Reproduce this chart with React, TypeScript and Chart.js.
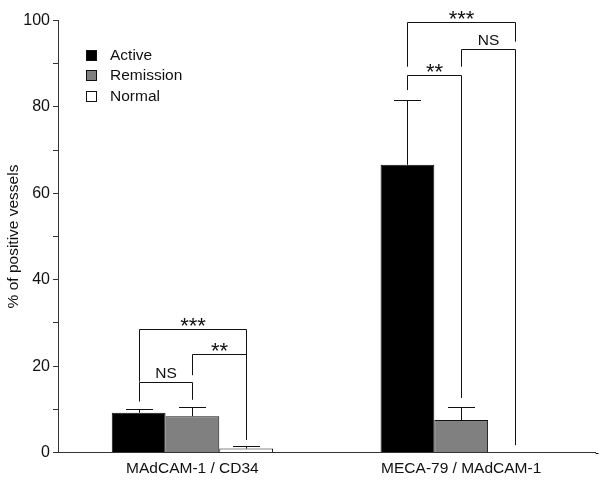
import React, { useEffect, useRef } from 'react';
import { Chart, registerables } from 'chart.js';

Chart.register(...registerables);

const categories = ['MAdCAM-1 / CD34', 'MECA-79 / MAdCAM-1'];
const seriesNames = ['Active', 'Remission', 'Normal'];
const activeValues = [9.2, 66.6];
const activeErrors = [0.9, 15.1];
const remissionValues = [8.4, 7.5];
const remissionErrors = [2.1, 3.1];
const normalValues = [0.9, 0];
const normalErrors = [0.5, 0];
const seriesColors = ['#000000', '#808080', '#ffffff'];

// significance brackets (value units)
const bracketCategory = [0, 0, 0, 1, 1, 1];
const bracketFrom = [0, 0, 1, 0, 1, 0];
const bracketTo = [1, 2, 2, 1, 2, 2];
const bracketTop = [16.4, 28.7, 22.7, 87.5, 93.4, 99.6];
const bracketLeftEnd = [11.8, 16.4, 17.9, 83.9, 89.3, 89.3];
const bracketRightEnd = [12.2, 2.9, 2.9, 12.6, 1.7, 95.1];
const bracketLabels = ['NS', '***', '**', '**', 'NS', '***'];

const FONT = "'Liberation Sans', Arial, Helvetica, sans-serif";
const INK = '#111111';

const crisp = (v: number) => Math.round(v) + 0.5;

const overlayPlugin = {
  id: 'overlay',
  afterDatasetsDraw(chart: any) {
    const ctx = chart.ctx as CanvasRenderingContext2D;
    const ys = chart.scales.y;
    const area = chart.chartArea;
    const errs = [activeErrors, remissionErrors, normalErrors];
    ctx.save();
    ctx.strokeStyle = INK;
    ctx.lineWidth = 1;
    const line = (x1: number, y1: number, x2: number, y2: number) => {
      ctx.beginPath();
      ctx.moveTo(x1, y1);
      ctx.lineTo(x2, y2);
      ctx.stroke();
    };
    // error bars
    chart.data.datasets.forEach((ds: any, d: number) => {
      const meta = chart.getDatasetMeta(d);
      meta.data.forEach((bar: any, i: number) => {
        const e = errs[d][i];
        if (!e) return;
        const v = ds.data[i];
        const x = crisp(bar.x);
        const yTop = crisp(ys.getPixelForValue(v + e));
        const yBar = ys.getPixelForValue(v);
        const half = bar.width / 4;
        line(x, yBar, x, yTop);
        line(Math.round(x - half), yTop, Math.round(x + half), yTop);
      });
    });
    // brackets
    for (let k = 0; k < bracketLabels.length; k++) {
      const c = bracketCategory[k];
      const xa = crisp(chart.getDatasetMeta(bracketFrom[k]).data[c].x);
      const xb = crisp(chart.getDatasetMeta(bracketTo[k]).data[c].x);
      const yt = crisp(ys.getPixelForValue(bracketTop[k]));
      const yl = ys.getPixelForValue(bracketLeftEnd[k]);
      const yr = ys.getPixelForValue(bracketRightEnd[k]);
      ctx.beginPath();
      ctx.moveTo(xa, yl);
      ctx.lineTo(xa, yt);
      ctx.lineTo(xb, yt);
      ctx.lineTo(xb, yr);
      ctx.stroke();
      const label = bracketLabels[k];
      const star = label.indexOf('*') >= 0;
      ctx.fillStyle = INK;
      ctx.textAlign = 'center';
      ctx.textBaseline = 'alphabetic';
      ctx.font = star ? `22px ${FONT}` : `15.5px ${FONT}`;
      ctx.fillText(label, (xa + xb) / 2, star ? yt + 3 : yt - 5);
    }
    // x axis extension to the right
    line(area.right, crisp(area.bottom), area.right + 3, crisp(area.bottom));
    ctx.restore();
  },
  afterDraw(chart: any) {
    const ctx = chart.ctx as CanvasRenderingContext2D;
    ctx.save();
    chart.data.datasets.forEach((ds: any, d: number) => {
      const top = 49.5 + d * 20.5;
      ctx.fillStyle = ds.backgroundColor;
      ctx.fillRect(86, Math.round(top), 11, 11);
      ctx.strokeStyle = INK;
      ctx.lineWidth = 1;
      ctx.strokeRect(86.5, Math.round(top) + 0.5, 10, 10);
      ctx.fillStyle = INK;
      ctx.font = `15.5px ${FONT}`;
      ctx.textAlign = 'left';
      ctx.textBaseline = 'middle';
      ctx.fillText(ds.label, 110, Math.round(top) + 6);
    });
    ctx.restore();
  },
};

export default function App() {
  const ref = useRef<HTMLCanvasElement | null>(null);
  useEffect(() => {
    if (!ref.current) return;
    const chart = new Chart(ref.current, {
      type: 'bar',
      data: {
        labels: categories,
        datasets: [
          { label: seriesNames[0], data: activeValues, backgroundColor: seriesColors[0], borderColor: INK, borderWidth: 1 },
          { label: seriesNames[1], data: remissionValues, backgroundColor: seriesColors[1], borderColor: INK, borderWidth: 1 },
          { label: seriesNames[2], data: normalValues, backgroundColor: seriesColors[2], borderColor: INK, borderWidth: 1 },
        ],
      },
      options: {
        responsive: false,
        animation: false,
        events: [],
        layout: { padding: { top: 20.5, right: 6.4, bottom: 0, left: 0 } },
        plugins: {
          legend: { display: false },
          tooltip: { enabled: false },
        },
        datasets: { bar: { categoryPercentage: 0.6, barPercentage: 1 } },
        scales: {
          x: {
            grid: { display: false, drawTicks: false },
            border: { display: true, color: '#333333', width: 1 },
            ticks: { color: INK, font: { family: FONT, size: 15.5 }, padding: 7, maxRotation: 0 },
            afterFit: (s: any) => { s.height = 29.5; },
          },
          y: {
            min: 0,
            max: 100,
            grid: { display: true, drawOnChartArea: false, drawTicks: true, tickLength: 5, color: '#333333' },
            border: { display: true, color: '#333333', width: 1 },
            ticks: {
              stepSize: 10,
              padding: 3,
              color: INK,
              font: { family: FONT, size: 16 },
              callback: (v: any) => (Number(v) % 20 === 0 ? String(v) : ''),
            },
            title: {
              display: true,
              text: '% of positive vessels',
              color: INK,
              font: { family: FONT, size: 15.5 },
              padding: { top: 4, bottom: 4 },
            },
            afterFit: (s: any) => { s.width = 58; },
          },
        },
      },
      plugins: [overlayPlugin],
    } as any);
    return () => chart.destroy();
  }, []);
  return (
    <div style={{ position: 'fixed', left: 0, top: 0, width: 602, height: 482, background: '#fff' }}>
      <canvas ref={ref} width={602} height={482} style={{ display: 'block' }} />
    </div>
  );
}
